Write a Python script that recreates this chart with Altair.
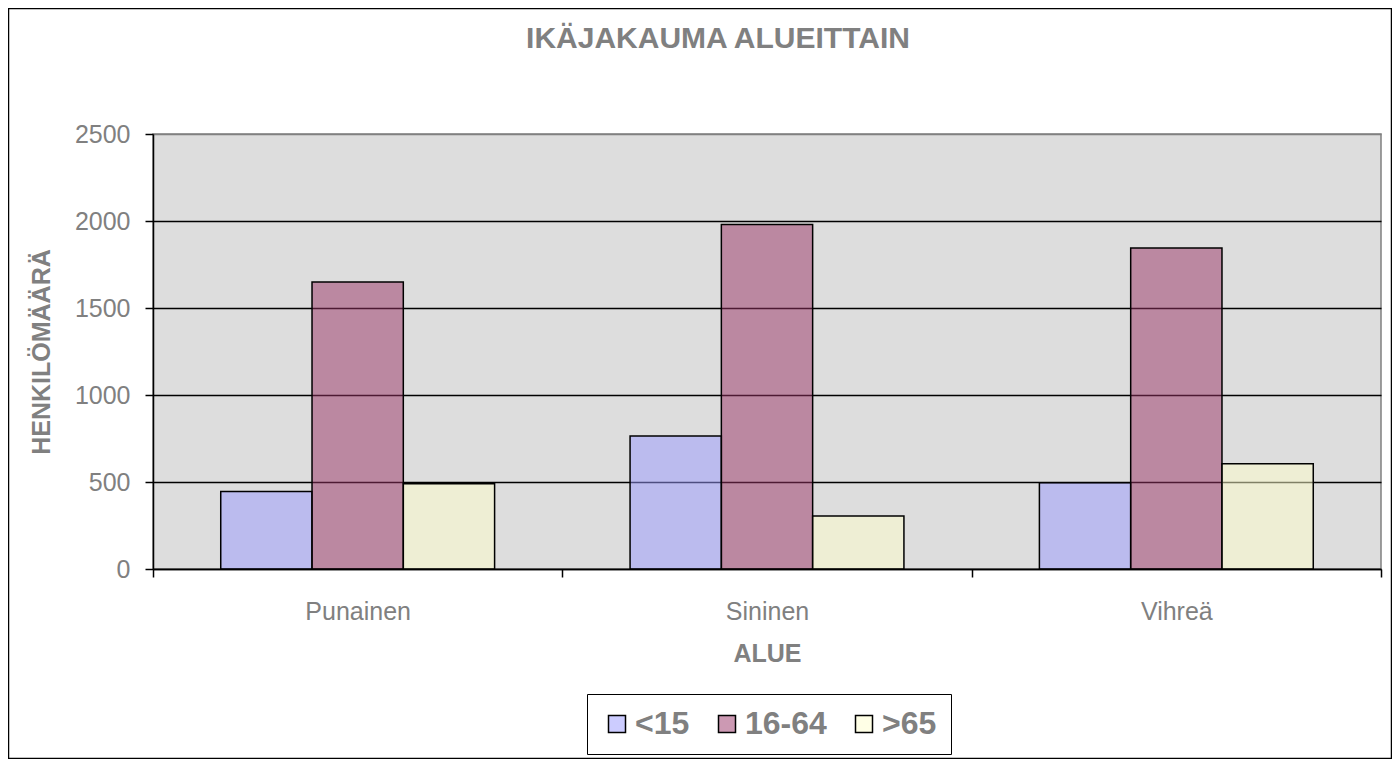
import altair as alt
import pandas as pd

categories = ["Punainen", "Sininen", "Vihreä"]
groups = ["<15", "16-64", ">65"]
under15 = [445, 765, 495]
mid = [1650, 1980, 1845]
over65 = [490, 305, 605]
colors = ["#9999FF", "#993366", "#FFFFCC"]
legend_colors = ["#CCCCFF", "#CC99B3", "#FFFFE6"]
y_ticks = [0, 500, 1000, 1500, 2000, 2500]

rows = []
for i, c in enumerate(categories):
    for g, vals in zip(groups, [under15, mid, over65]):
        rows.append({"Alue": c, "Ikä": g, "Määrä": vals[i]})
df = pd.DataFrame(rows)

GRAY = "#808080"
FONT = "Liberation Sans"

x_enc = alt.X(
    "Alue:N", sort=categories,
    scale=alt.Scale(paddingInner=0, paddingOuter=0),
    axis=alt.Axis(
        title="ALUE", labelAngle=0, tickBand="extent", grid=False,
        domainColor="black", domainWidth=1.5, tickColor="black", tickWidth=1.5,
        tickSize=8, labelFont=FONT, labelFontSize=25, labelColor=GRAY,
        labelPadding=22, titleFont=FONT, titleFontSize=25, titleFontWeight="bold",
        titleColor=GRAY, titlePadding=17,
    ),
)
y_enc = alt.Y(
    "Määrä:Q",
    scale=alt.Scale(domain=[0, 2500], nice=False),
    axis=alt.Axis(
        title="HENKILÖMÄÄRÄ", values=y_ticks, format="d", grid=True,
        gridColor=alt.condition("datum.value === 2500", alt.value(GRAY), alt.value("black")),
        gridWidth=1.5,
        domainColor="black", domainWidth=1.5, tickColor="black", tickWidth=1.5,
        tickSize=8, labelFont=FONT, labelFontSize=25, labelColor=GRAY,
        labelPadding=15, titleFont=FONT, titleFontSize=25, titleFontWeight="bold",
        titleColor=GRAY, titlePadding=20,
    ),
)

bars = alt.Chart(df).mark_bar(
    fillOpacity=0.5, stroke="black", strokeWidth=1.5, strokeOpacity=1
).encode(
    x=x_enc,
    xOffset=alt.XOffset("Ikä:N", sort=groups,
                        scale=alt.Scale(paddingInner=0, paddingOuter=0.742)),
    y=y_enc,
    color=alt.Color("Ikä:N", sort=groups,
                    scale=alt.Scale(domain=groups, range=colors), legend=None),
)

legend_layer = alt.Chart(df).mark_square(opacity=0).encode(
    x=alt.X("Alue:N", sort=categories),
    y=alt.Y("Määrä:Q"),
    color=alt.Color(
        "Ikä:N", sort=groups,
        scale=alt.Scale(domain=groups, range=legend_colors),
        legend=alt.Legend(
            title=None, orient="none", legendX=434, legendY=560, direction="horizontal",
            labelFont=FONT, labelFontSize=32, labelFontWeight="bold", labelColor=GRAY,
            symbolType="square", symbolSize=289, symbolStrokeColor="black",
            symbolStrokeWidth=1.5, symbolOpacity=1, labelOffset=2, columnPadding=21,
            strokeColor="black", padding=14, fillColor="white",
        ),
    ),
)

frame = alt.Chart(pd.DataFrame({"k": [0]})).mark_rect(
    fill="transparent", stroke="black", strokeWidth=1.5
).encode(
    x=alt.value(-144.5), x2=alt.value(1238.5), y=alt.value(-125.5), y2=alt.value(624.5)
)

chart = alt.layer(bars, legend_layer, frame).resolve_scale(
    color="independent"
).resolve_legend(color="independent").properties(
    width=1228, height=435,
    autosize=alt.AutoSizeParams(type="none"),
    padding={"left": 145, "top": 126, "right": 11, "bottom": 190},
    title=alt.TitleParams(
        "IKÄJAKAUMA ALUEITTAIN", font=FONT, fontSize=30, fontWeight="bold",
        color=GRAY, anchor="middle", frame="group", dx=-49, baseline="alphabetic",
        offset=-70,
    ),
).configure(background="white").configure_view(
    fill="#DDDDDD", stroke=GRAY, strokeWidth=1.5
)

chart.save("out.html", embed_options={"renderer": "svg", "actions": False})
